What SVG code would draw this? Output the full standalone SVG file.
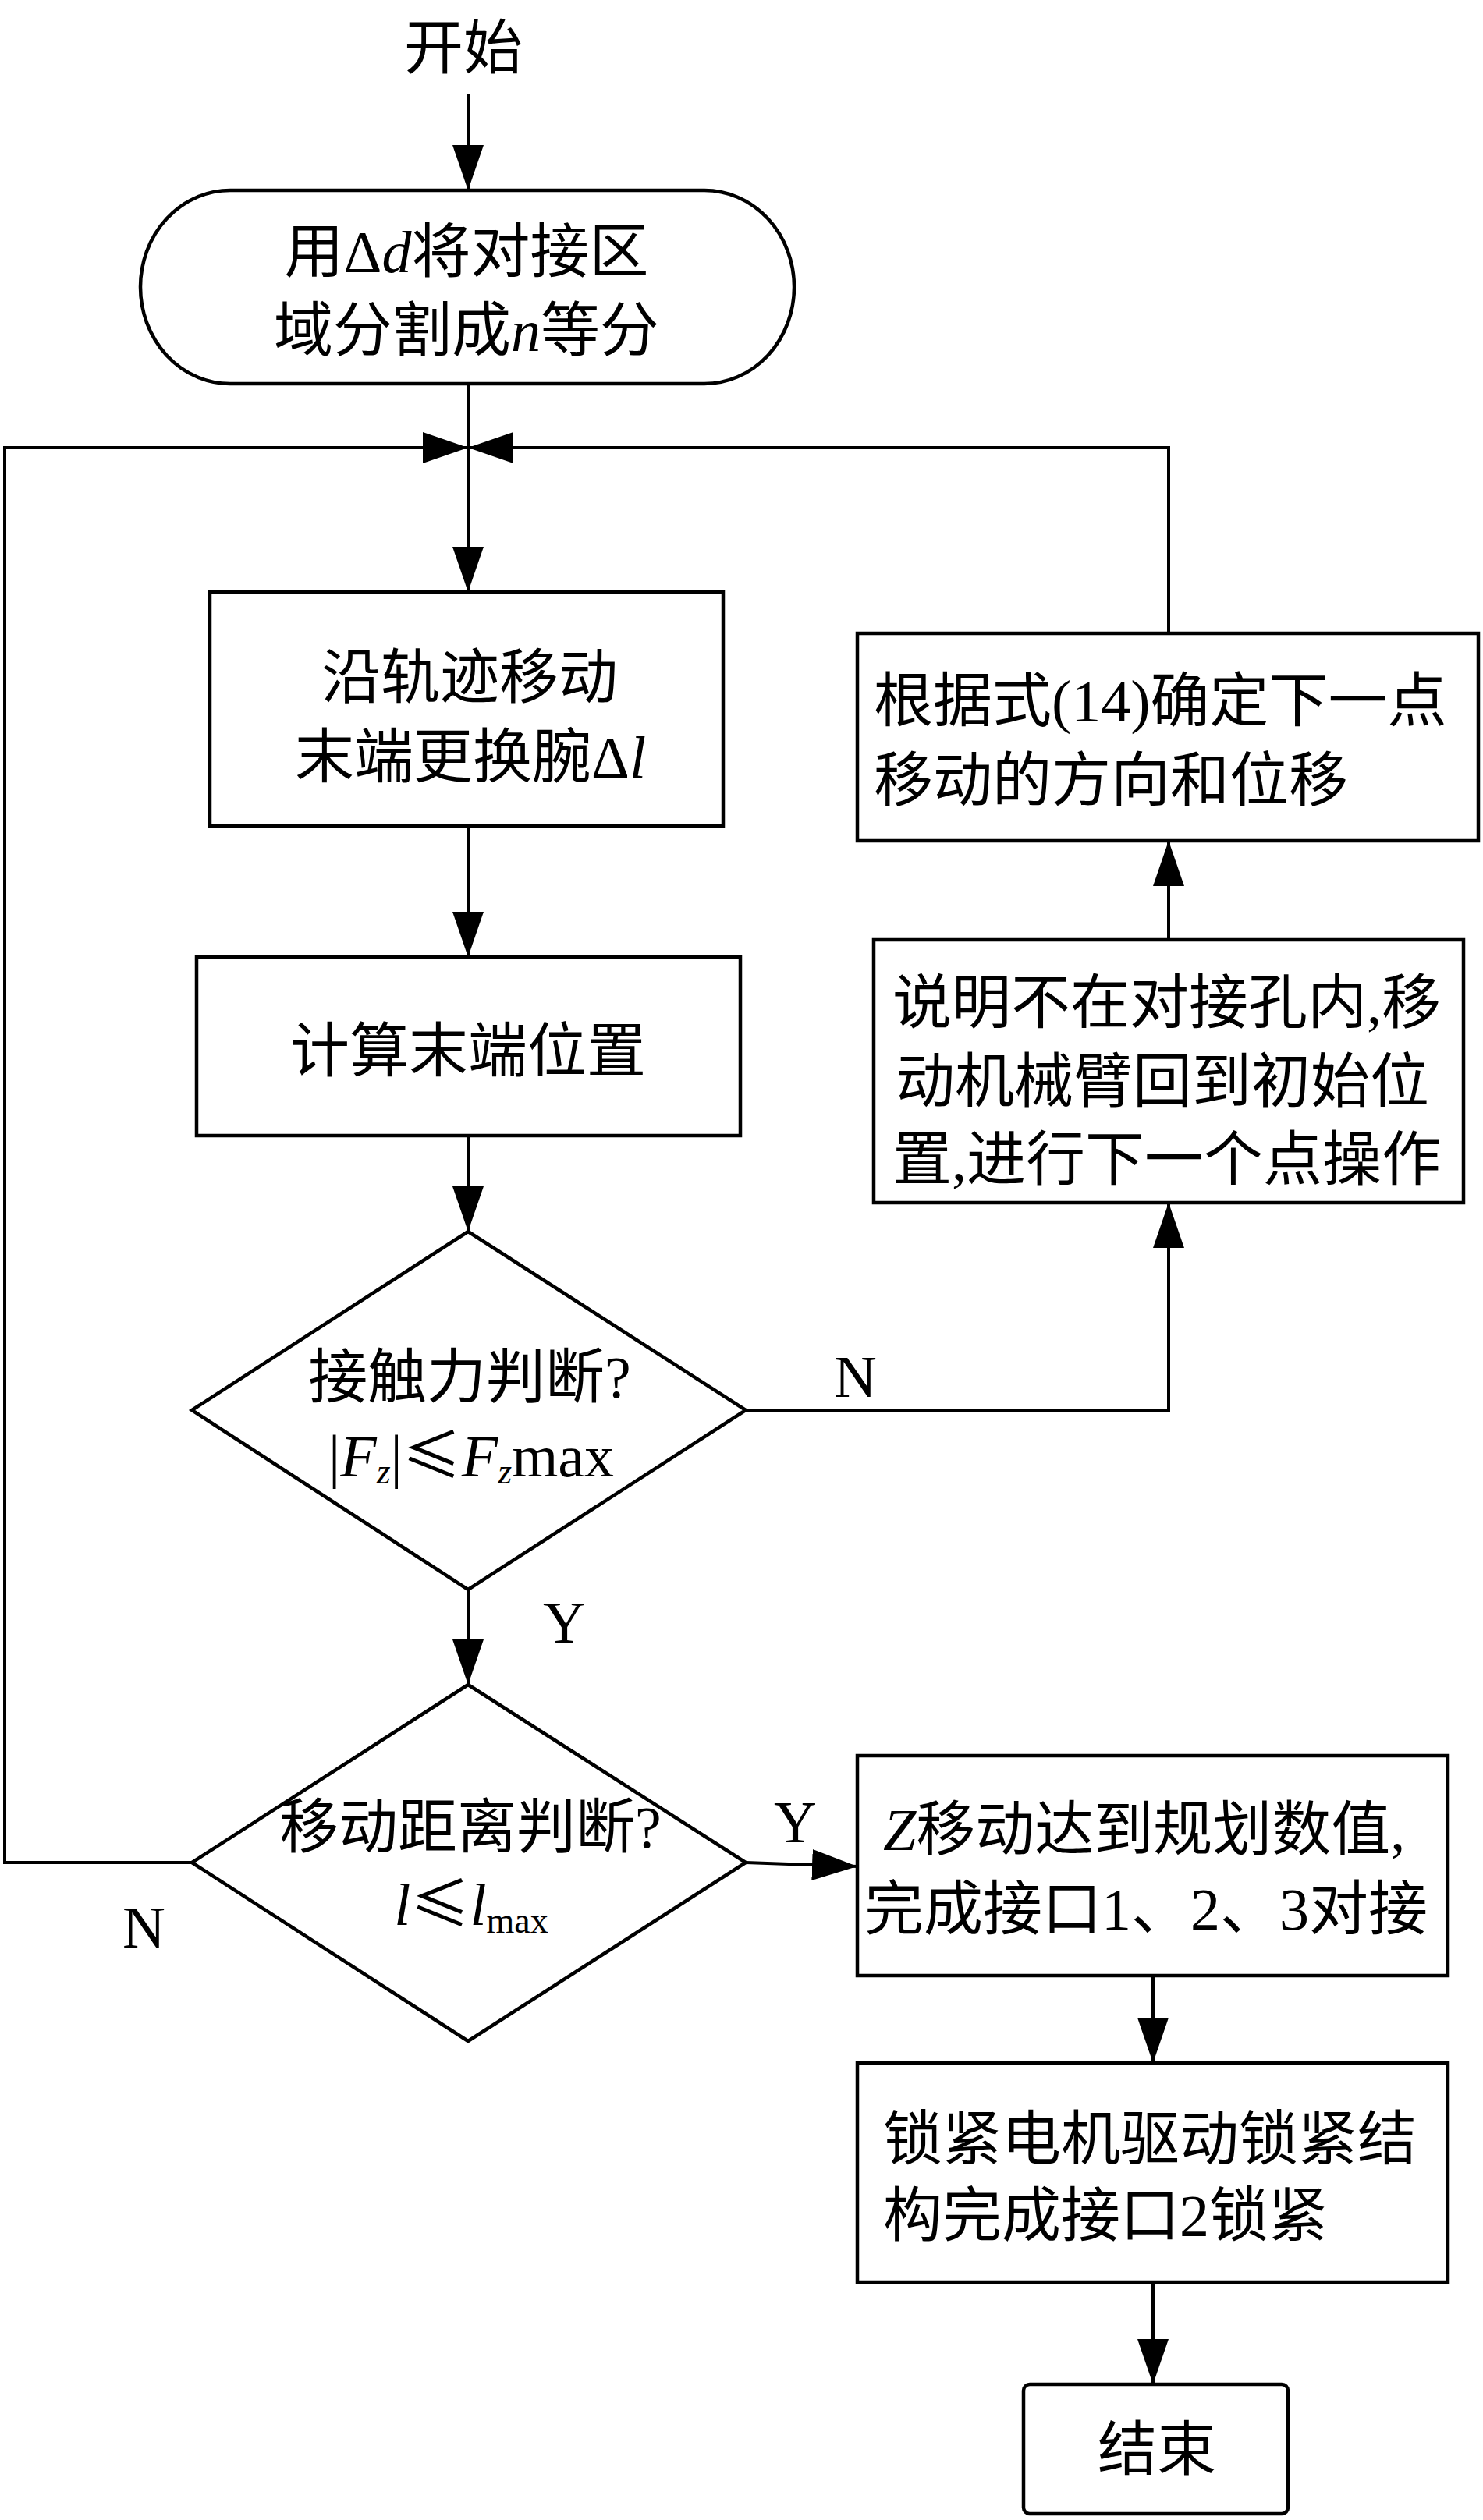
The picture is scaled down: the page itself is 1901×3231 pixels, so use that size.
<svg xmlns="http://www.w3.org/2000/svg" width="1901" height="3231" viewBox="0 0 1901 3231">
<style>
.s{fill:#fff;stroke:#000;stroke-width:4.5}
.c{fill:none;stroke:#000;stroke-width:4}
text{font-family:"Liberation Serif","Noto Sans CJK SC",serif;font-size:76px;fill:#000}
.m{text-anchor:middle}
.i{font-style:italic}
.cjk{font-family:"Noto Sans CJK SC","Liberation Serif",sans-serif}
.sub{font-size:46px}
</style>
<defs>
<marker id="ah" markerUnits="userSpaceOnUse" markerWidth="60" markerHeight="40" refX="58" refY="20" orient="auto">
<path d="M0,0 L58,20 L0,40 Z" fill="#000"/>
</marker>
</defs>
<rect width="1901" height="3231" fill="#fff"/>
<g id="connectors">
<path class="c" d="M600,120 V244" marker-end="url(#ah)"/>
<path class="c" d="M600,492 V759" marker-end="url(#ah)"/>
<path class="c" d="M246,2388 H6 V574 H600" marker-end="url(#ah)"/>
<path class="c" d="M1498,812 V574 H600" marker-end="url(#ah)"/>
<path class="c" d="M600,1059 V1227" marker-end="url(#ah)"/>
<path class="c" d="M600,1456 V1579" marker-end="url(#ah)"/>
<path class="c" d="M956,1808 H1498 V1542" marker-end="url(#ah)"/>
<path class="c" d="M1498,1205 V1078" marker-end="url(#ah)"/>
<path class="c" d="M600,2038 V2160" marker-end="url(#ah)"/>
<path class="c" d="M956,2388 L1099,2393" marker-end="url(#ah)"/>
<path class="c" d="M1478,2533 V2645" marker-end="url(#ah)"/>
<path class="c" d="M1478,2926 V3057" marker-end="url(#ah)"/>
<text x="1069" y="1791">N</text>
<text x="696" y="2106">Y</text>
<text x="992" y="2362">Y</text>
<text x="157" y="2497">N</text>
</g>
<g id="start">
<text class="m" x="594" y="88">开始</text>
</g>
<g id="divide">
<rect class="s" x="180" y="244" width="838" height="248" rx="115" ry="124"/>
<text class="m" x="598" y="349">用Δ<tspan class="i">d</tspan>将对接区</text>
<text class="m" x="598" y="450">域分割成<tspan class="i">n</tspan>等分</text>
</g>
<g id="move">
<rect class="s" x="269" y="759" width="658" height="300"/>
<text class="m" x="602" y="895">沿轨迹移动</text>
<text class="m" x="603" y="997">末端更换腕Δ<tspan class="i">l</tspan></text>
</g>
<g id="calc">
<rect class="s" x="252" y="1227" width="697" height="229"/>
<text class="m" x="600" y="1374">计算末端位置</text>
</g>
<g id="force">
<polygon class="s" points="600,1579 956,1808 600,2038 246,1808"/>
<text class="m" x="602" y="1792">接触力判断?</text>
<text class="m" x="604" y="1893">|<tspan class="i">F</tspan><tspan class="i sub" dy="9">z</tspan><tspan dy="-9">|</tspan><tspan class="cjk">≤</tspan><tspan class="i">F</tspan><tspan class="i sub" dy="9">z</tspan><tspan dy="-9">max</tspan></text>
</g>
<g id="dist">
<polygon class="s" points="600,2160 956,2388 600,2617 246,2388"/>
<text class="m" x="603" y="2369">移动距离判断?</text>
<text class="m" x="604" y="2468"><tspan class="i">l</tspan><tspan class="cjk">≤</tspan><tspan class="i">l</tspan><tspan class="sub" dy="10">max</tspan></text>
</g>
<g id="next">
<rect class="s" x="1099" y="812" width="796" height="266"/>
<text x="1120" y="925">根据式(14)确定下一点</text>
<text x="1120" y="1027">移动的方向和位移</text>
</g>
<g id="notin">
<rect class="s" x="1120" y="1205" width="756" height="337"/>
<text x="1144" y="1312">说明不在对接孔内,移</text>
<text x="1148" y="1413">动机械臂回到初始位</text>
<text x="1144" y="1513">置,进行下一个点操作</text>
</g>
<g id="dock">
<rect class="s" x="1099" y="2251" width="757" height="282"/>
<text x="1132" y="2372"><tspan class="i">Z</tspan>移动达到规划数值,</text>
<text x="1108" y="2474">完成接口1、2、3对接</text>
</g>
<g id="lock">
<rect class="s" x="1099" y="2645" width="757" height="281"/>
<text x="1132" y="2769">锁紧电机驱动锁紧结</text>
<text x="1132" y="2867">构完成接口2锁紧</text>
</g>
<g id="end">
<rect class="s" x="1312" y="3057" width="339" height="166" rx="8"/>
<text class="m" x="1483" y="3167">结束</text>
</g>
</svg>
